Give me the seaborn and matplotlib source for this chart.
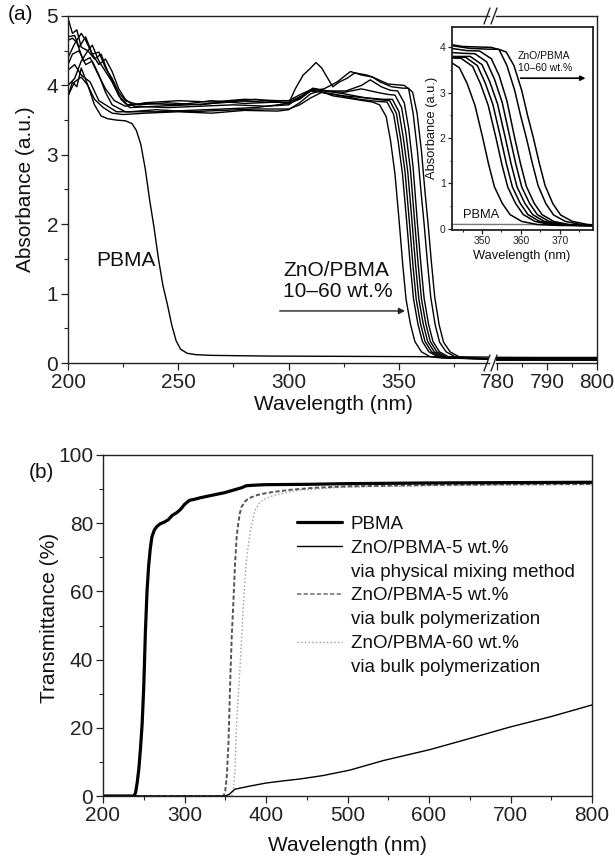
import matplotlib
matplotlib.use("Agg")
import matplotlib.pyplot as plt
from matplotlib.lines import Line2D
from matplotlib.ticker import MultipleLocator
import seaborn as sns

# ---------------- data: panel (a) absorbance ----------------
pbma_a_wl = [200, 202, 204, 206, 209, 212, 215, 218, 222, 226, 229, 231, 233, 235, 237, 239, 241, 243, 245, 247,
             249, 251, 254, 258, 265, 290, 330, 370, 392, 779, 800]
pbma_a_abs = [3.84, 4.05, 3.98, 4.25, 4.0, 3.72, 3.56, 3.52, 3.5, 3.49, 3.45, 3.35, 3.15, 2.8, 2.35, 1.95, 1.5, 1.12, 0.85, 0.55,
              0.32, 0.2, 0.14, 0.12, 0.11, 0.1, 0.095, 0.09, 0.085, 0.08, 0.08]

zno1_wl = [200, 203, 206, 209, 212, 216, 220, 225, 235, 250, 265, 280, 295, 300, 305, 310, 314, 320, 330, 338,
           341.2, 344.2, 346.2, 348.2, 350.2, 351.7, 353.2, 355.2, 357.2, 360.2, 364.2, 370, 392, 779, 800]
zno1_abs = [3.85, 4.05, 4.12, 4.0, 3.8, 3.68, 3.6, 3.58, 3.6, 3.62, 3.6, 3.64, 3.63, 3.65, 3.75, 3.88, 3.92, 3.85, 3.8, 3.76,
            3.72, 3.55, 3.2, 2.72, 2.0, 1.42, 0.92, 0.56, 0.31, 0.16, 0.09, 0.07, 0.06, 0.06, 0.05]

zno2_wl = [200, 203, 206, 210, 214, 218, 222, 228, 240, 255, 270, 285, 300, 305, 310, 315, 322, 332, 340, 344.6,
           347.6, 349.6, 351.6, 353.6, 355.1, 356.6, 358.6, 360.6, 363.6, 367.6, 374, 392, 779, 800]
zno2_abs = [4.22, 4.3, 4.15, 4.05, 3.78, 3.7, 3.62, 3.62, 3.65, 3.62, 3.64, 3.66, 3.66, 3.72, 3.82, 3.9, 3.86, 3.8, 3.77, 3.76,
            3.58, 3.2, 2.72, 2.0, 1.42, 0.92, 0.56, 0.31, 0.16, 0.09, 0.07, 0.06, 0.05, 0.05]

zno3_wl = [200, 202, 204, 207, 210, 213, 217, 221, 226, 235, 250, 265, 280, 295, 300, 306, 311, 316, 325, 335,
           342, 345.8, 348.8, 350.8, 352.8, 354.8, 356.3, 357.8, 359.8, 361.8, 364.8, 368.8, 375, 392, 779, 800]
zno3_abs = [4.65, 4.68, 4.62, 4.35, 4.4, 4.2, 3.95, 3.78, 3.7, 3.75, 3.78, 3.76, 3.8, 3.78, 3.78, 3.88, 3.95, 3.92, 3.88, 3.82,
            3.79, 3.78, 3.6, 3.22, 2.74, 2.0, 1.42, 0.92, 0.56, 0.31, 0.16, 0.09, 0.07, 0.06, 0.07, 0.06]

zno4_wl = [200, 202, 204, 206, 209, 211, 214, 217, 220, 223, 227, 235, 250, 265, 280, 295, 300, 305, 310, 315,
           325, 335, 343, 347, 350, 352, 354, 356, 357.5, 359, 361, 363, 366, 370, 376, 392, 779, 800]
zno4_abs = [4.97, 4.75, 4.8, 4.55, 4.5, 4.58, 4.35, 4.2, 4.05, 3.85, 3.72, 3.74, 3.72, 3.78, 3.74, 3.76, 3.74, 3.82, 3.92, 3.9,
            3.85, 3.82, 3.8, 3.8, 3.62, 3.24, 2.75, 2.0, 1.42, 0.92, 0.56, 0.31, 0.16, 0.09, 0.07, 0.06, 0.04, 0.04]

zno5_wl = [200, 203, 205, 208, 211, 214, 217, 220, 223, 226, 232, 245, 260, 275, 290, 300, 306, 311, 317, 325,
           333, 340, 345, 348.2, 351.2, 353.2, 355.2, 357.2, 358.7, 360.2, 362.2, 364.2, 367.2, 371.2, 377, 392, 779, 800]
zno5_abs = [4.7, 4.72, 4.55, 4.7, 4.45, 4.48, 4.25, 4.1, 3.9, 3.78, 3.72, 3.75, 3.72, 3.78, 3.76, 3.76, 3.85, 3.96, 3.92, 3.9,
            3.95, 3.9, 3.87, 3.86, 3.68, 3.3, 2.78, 2.0, 1.42, 0.92, 0.56, 0.31, 0.16, 0.09, 0.07, 0.06, 0.08, 0.07]

zno6_wl = [200, 203, 206, 208, 211, 214, 217, 220, 223, 226, 230, 245, 260, 275, 290, 300, 306, 311, 318, 326,
           333, 337, 342, 346, 349.4, 352.4, 354.4, 356.4, 358.4, 359.9, 361.4, 363.4, 365.4, 368.4, 372.4, 378, 392, 779, 800]
zno6_abs = [4.4, 4.6, 4.75, 4.65, 4.45, 4.3, 4.38, 4.2, 3.95, 3.8, 3.7, 3.68, 3.7, 3.72, 3.7, 3.72, 3.85, 3.95, 3.92, 3.92,
            4.0, 4.08, 3.98, 3.93, 3.92, 3.75, 3.38, 2.82, 2.0, 1.43, 0.93, 0.56, 0.31, 0.16, 0.09, 0.07, 0.06, 0.05, 0.06]

zno7_wl = [200, 203, 206, 209, 212, 215, 218, 221, 224, 228, 240, 255, 270, 285, 300, 305, 310, 316, 322, 328,
           333, 338, 345, 352.4, 354.4, 356.4, 358.4, 359.9, 361.4, 362.9, 364.4, 366.4, 368.4, 371.4, 375.4, 381, 392, 779, 800]
zno7_abs = [4.0, 4.1, 4.35, 4.5, 4.38, 4.45, 4.2, 4.0, 3.8, 3.68, 3.7, 3.72, 3.75, 3.8, 3.74, 3.8, 3.92, 3.95, 4.05, 4.2,
            4.15, 4.12, 4.02, 4.0, 3.95, 3.6, 3.05, 2.5, 2.0, 1.45, 0.95, 0.55, 0.3, 0.16, 0.09, 0.07, 0.06, 0.05, 0.05]

zno8_wl = [200, 202, 205, 208, 211, 214, 217, 220, 226, 240, 255, 270, 285, 300, 303, 306.6, 309, 312.4, 315, 317.2,
           320, 323, 326.3, 330, 335.3, 338, 341.4, 346.7, 351.8, 354.2, 356.2, 358.2, 360.2, 361.7, 363.2, 364.7, 366.2,
           368.2, 370.2, 373.2, 377.2, 383, 392, 779, 800]
zno8_abs = [4.3, 4.45, 4.5, 4.3, 4.35, 4.15, 3.9, 3.72, 3.62, 3.62, 3.64, 3.66, 3.68, 3.74, 3.95, 4.15, 4.22, 4.33, 4.25, 4.13,
            3.98, 4.05, 4.1, 4.18, 4.15, 4.12, 4.05, 3.98, 3.96, 3.96, 3.9, 3.6, 3.05, 2.5, 2.0, 1.45, 0.95,
            0.55, 0.3, 0.16, 0.09, 0.07, 0.06, 0.07, 0.06]

zno_wl = [zno1_wl, zno2_wl, zno3_wl, zno4_wl, zno5_wl, zno6_wl, zno7_wl, zno8_wl]
zno_abs = [zno1_abs, zno2_abs, zno3_abs, zno4_abs, zno5_abs, zno6_abs, zno7_abs, zno8_abs]

# ---------------- data: panel (b) transmittance ----------------
pbma_b_wl = [200, 238, 240, 242, 244, 246, 248, 250, 252, 254, 256, 258, 260, 263, 266, 270, 275, 280, 285, 290,
             295, 300, 306, 312, 320, 330, 340, 350, 360, 370, 376, 390, 400, 450, 500, 600, 700, 800]
pbma_b_T = [0, 0, 1, 4, 8, 14, 21, 32, 48, 60, 67.5, 72.5, 76, 78, 79, 79.8, 80.3, 81, 82.3, 83,
            84, 85.5, 86.7, 87, 87.5, 88, 88.5, 89, 89.7, 90.4, 91, 91.2, 91.3, 91.4, 91.6, 91.8, 91.9, 92]

phys5_wl = [200, 350, 355, 358, 362, 370, 380, 400, 420, 442, 470, 503, 544, 601, 646, 699, 750, 800]
phys5_T = [0, 0, 0.5, 1.2, 2.0, 2.4, 2.9, 3.8, 4.4, 5.0, 6.0, 7.6, 10.4, 13.6, 16.6, 20.2, 23.3, 26.7]

bulk5_wl = [200, 348, 350, 352, 354, 356, 358, 360, 362, 364, 366, 368, 370, 374, 378, 384, 390, 400, 410, 430,
            460, 500, 600, 700, 800]
bulk5_T = [0, 0, 1.5, 6, 16, 33, 47, 57, 68, 76, 80, 83, 84.8, 86.3, 87.2, 87.8, 88.3, 88.8, 89.2, 89.8,
           90.4, 90.8, 91.2, 91.4, 91.5]

bulk60_wl = [200, 358, 360, 362, 364, 366, 368, 370, 372, 374, 376, 378, 381, 386, 392, 400, 410, 425, 442, 470,
             500, 600, 700, 800]
bulk60_T = [0, 0, 1.8, 8, 22, 30, 37, 46, 55, 63, 69, 73, 78, 83.5, 86, 87.3, 88.2, 89, 89.7, 90.2,
            90.6, 91, 91.2, 91.3]

legend_labels = ["PBMA", "ZnO/PBMA-5 wt.%", "via physical mixing method",
                 "ZnO/PBMA-5 wt.%", "via bulk polymerization",
                 "ZnO/PBMA-60 wt.%", "via bulk polymerization"]

# ---------------- style ----------------
sns.set_style("ticks")
plt.rcParams["font.family"] = ["Liberation Sans", "DejaVu Sans"]
plt.rcParams["axes.linewidth"] = 1.0
plt.rcParams["axes.edgecolor"] = "#222222"
plt.rcParams["xtick.color"] = "#222222"
plt.rcParams["ytick.color"] = "#222222"
plt.rcParams["text.color"] = "#111111"

W, H = 615, 863
fig = plt.figure(figsize=(W / 100, H / 100), dpi=100)


def box(l, t, r, b):
    return [l / W, 1 - b / H, (r - l) / W, (b - t) / H]


def fx(x):
    return x / W


def fy(y):
    return 1 - y / H


FS = 15
LINE = dict(color="black", lw=1.0, estimator=None, sort=False, legend=False)


def style_ticks(ax, size=FS, major=5, minor=3):
    ax.tick_params(which="major", direction="out", length=major, width=0.9, labelsize=size, pad=2)
    ax.tick_params(which="minor", direction="out", length=minor, width=0.8)


# ---------------- panel (a): broken x axis ----------------
axL = fig.add_axes(box(68, 16, 489, 363))
axR = fig.add_axes(box(496, 16, 597, 363))
for ax in (axL, axR):
    sns.lineplot(x=pbma_a_wl, y=pbma_a_abs, ax=ax, **LINE)
    for wl, ab in zip(zno_wl, zno_abs):
        sns.lineplot(x=wl, y=ab, ax=ax, **LINE)
    ax.set_ylim(0, 5)
    ax.set_xlabel("")
    ax.set_ylabel("")

axL.set_xlim(200, 390.8)
axL.xaxis.set_major_locator(MultipleLocator(50))
axL.xaxis.set_minor_locator(MultipleLocator(25))
axL.yaxis.set_major_locator(MultipleLocator(1))
axL.yaxis.set_minor_locator(MultipleLocator(0.5))
axL.spines["right"].set_visible(False)
style_ticks(axL)

axR.set_xlim(779.8, 800)
axR.xaxis.set_major_locator(MultipleLocator(10))
axR.xaxis.set_minor_locator(MultipleLocator(5))
axR.spines["left"].set_visible(False)
style_ticks(axR)
axR.tick_params(which="both", left=False, labelleft=False)

# break marks
for yy in (16, 363):
    for x0 in (484, 491):
        fig.add_artist(Line2D([fx(x0), fx(x0 + 6)], [fy(yy + 8), fy(yy - 8)],
                              transform=fig.transFigure, color="#222222", lw=1.0))

axL.text(213, 1.48, "PBMA", fontsize=FS, ha="left", va="center")
axL.text(297.5, 1.18, "ZnO/PBMA\n10–60 wt.%", fontsize=FS, ha="left", va="center", linespacing=1.15)
axL.annotate("", xy=(354, 0.75), xytext=(294.7, 0.75),
             arrowprops=dict(arrowstyle="-|>", color="#222222", lw=1.0, mutation_scale=9))

fig.text(fx(20), fy(15), "(a)", fontsize=FS, ha="center", va="center")
fig.text(fx(26), fy(189), "Absorbance (a.u.)", fontsize=FS, rotation=90, ha="center", va="center")
fig.text(fx(333), fy(404), "Wavelength (nm)", fontsize=FS, ha="center", va="center")

# ---------------- inset ----------------
axI = fig.add_axes(box(452, 27, 593, 230))
axI.set_facecolor("white")
sns.lineplot(x=pbma_a_wl, y=pbma_a_abs, ax=axI, color="#777777", lw=1.0, estimator=None, sort=False, legend=False)
for wl, ab in zip(zno_wl, zno_abs):
    sns.lineplot(x=wl, y=ab, ax=axI, color="black", lw=1.1, estimator=None, sort=False, legend=False)
axI.set_xlim(342.3, 378.5)
axI.set_ylim(-0.03, 4.45)
axI.set_xlabel("")
axI.set_ylabel("")
axI.xaxis.set_major_locator(MultipleLocator(10))
axI.xaxis.set_minor_locator(MultipleLocator(5))
axI.yaxis.set_major_locator(MultipleLocator(1))
axI.yaxis.set_minor_locator(MultipleLocator(0.5))
for s in axI.spines.values():
    s.set_linewidth(1.3)
style_ticks(axI, size=7.5, major=3, minor=1.5)
axI.tick_params(which="major", pad=1.5)
axI.text(359.2, 3.68, "ZnO/PBMA\n10–60 wt.%", fontsize=7.5, ha="left", va="center", linespacing=1.3)
axI.annotate("", xy=(377.3, 3.32), xytext=(359.2, 3.32),
             arrowprops=dict(arrowstyle="-|>", color="black", lw=1.2, mutation_scale=7))
axI.text(345.0, 0.29, "PBMA", fontsize=9.3, ha="left", va="center")
fig.text(fx(432), fy(128), "Absorbance (a.u.)", fontsize=9.3, rotation=90, ha="center", va="center")
fig.text(fx(522), fy(256), "Wavelength (nm)", fontsize=9.3, ha="center", va="center")

# ---------------- panel (b) ----------------
axB = fig.add_axes(box(103, 455, 592, 796))
sns.lineplot(x=bulk60_wl, y=bulk60_T, ax=axB, color="#9a9a9a", lw=1.0, linestyle=":",
             estimator=None, sort=False, legend=False)
sns.lineplot(x=bulk5_wl, y=bulk5_T, ax=axB, color="#555555", lw=1.4, linestyle=(0, (2.2, 1.2)),
             estimator=None, sort=False, legend=False)
sns.lineplot(x=phys5_wl, y=phys5_T, ax=axB, color="black", lw=1.0,
             estimator=None, sort=False, legend=False)
sns.lineplot(x=pbma_b_wl, y=pbma_b_T, ax=axB, color="black", lw=2.3,
             estimator=None, sort=False, legend=False)
axB.set_xlim(200, 800)
axB.set_ylim(0, 100)
axB.set_xlabel("")
axB.set_ylabel("")
axB.xaxis.set_major_locator(MultipleLocator(100))
axB.xaxis.set_minor_locator(MultipleLocator(50))
axB.yaxis.set_major_locator(MultipleLocator(20))
axB.yaxis.set_minor_locator(MultipleLocator(10))
style_ticks(axB)

blank = Line2D([], [], color="none")
handles = [Line2D([], [], color="black", lw=2.3),
           Line2D([], [], color="black", lw=1.0), blank,
           Line2D([], [], color="#8a8a8a", lw=1.4, linestyle=(0, (2.2, 1.2))), blank,
           Line2D([], [], color="#9a9a9a", lw=1.0, linestyle=":"), blank]
axB.legend(handles, legend_labels, loc="upper left", bbox_to_anchor=(0.397, 0.822),
           frameon=False, fontsize=13.5, handlelength=2.4, handletextpad=0.45,
           labelspacing=0.36, borderpad=0, borderaxespad=0)

fig.text(fx(41), fy(472), "(b)", fontsize=FS, ha="center", va="center")
fig.text(fx(50), fy(618), "Transmittance (%)", fontsize=FS, rotation=90, ha="center", va="center")
fig.text(fx(347), fy(845), "Wavelength (nm)", fontsize=FS, ha="center", va="center")

fig.savefig("out.png", dpi=100)
